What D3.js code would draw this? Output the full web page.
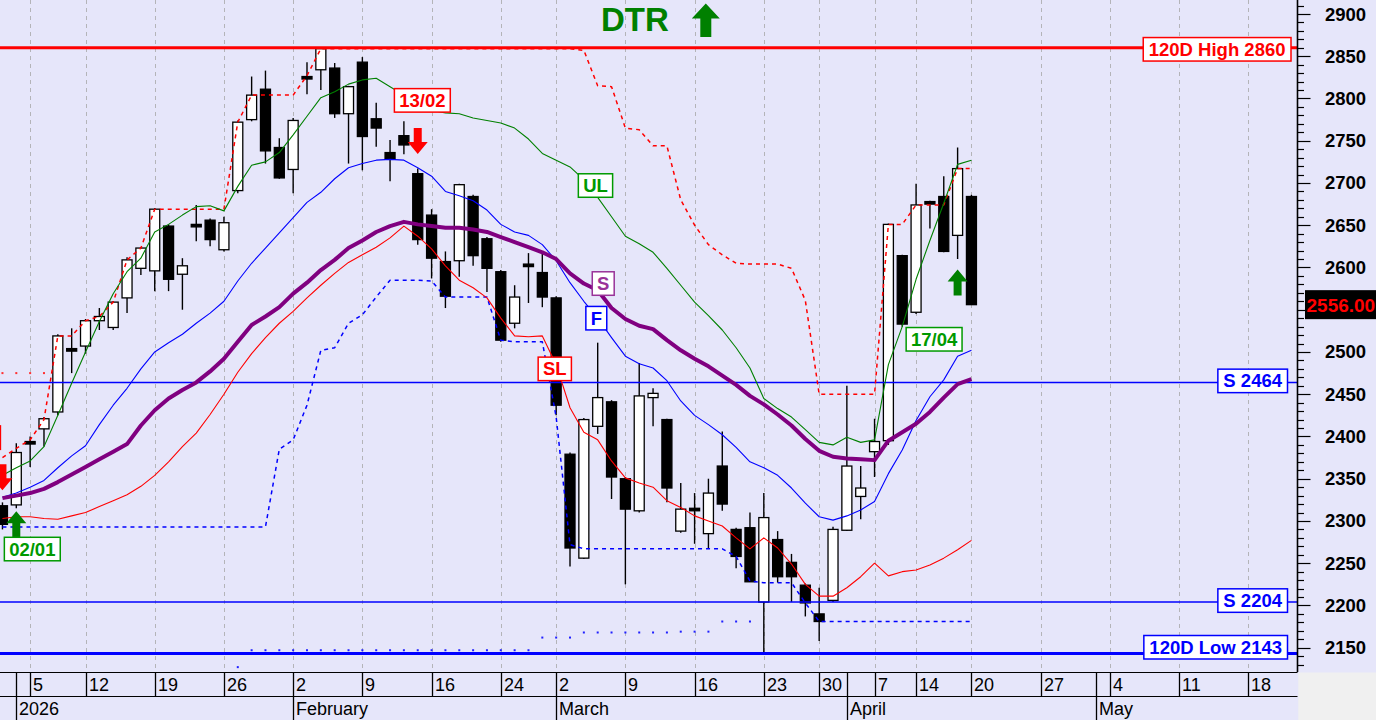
<!DOCTYPE html>
<html><head><meta charset="utf-8">
<script src="https://cdn.jsdelivr.net/npm/d3@7"></script>
<style>
html,body{margin:0;padding:0;background:#f0f0f0;}
svg{display:block;font-family:"Liberation Sans",Arial,sans-serif;}
</style></head><body>
<svg id="c" width="1376" height="720"></svg>
<script>
// ---------------- DATA ----------------
const firstDay = "2025-12-31", lastDay = "2026-05-29";
const holidays = ["2026-01-01","2026-01-09","2026-02-23","2026-03-27","2026-04-03","2026-04-06","2026-04-10","2026-04-13"];
const title = "DTR";
const monthLabels = ["2026","February","March","April","May","June"];

const open  = [2318,2319,2394,2409,2429,2504,2507,2537,2529,2564,2599,2596,2649,2592,2651,2656,2621,2691,2775,2811,2742,2716,2826,2834,2836,2782,2843,2776,2736,2756,2711,2662,2607,2608,2684,2634,2595,2534,2604,2594,2564,2379,2256,2412,2441,2350,2312,2446,2420,2288,2315,2285,2365,2290,2292,2204,2278,2251,2224,2190,2206,2289,2329,2382,2395,2614,2547,2678,2684,2638,2684];
const high  = [2322,2392,2400,2423,2521,2528,2539,2552,2560,2612,2624,2670,2651,2611,2674,2658,2660,2774,2826,2833,2753,2777,2843,2860,2842,2815,2849,2795,2751,2773,2717,2669,2619,2699,2686,2636,2597,2579,2617,2617,2566,2381,2422,2511,2443,2352,2487,2457,2421,2345,2333,2350,2406,2292,2310,2333,2288,2261,2226,2221,2293,2460,2365,2421,2652,2615,2699,2679,2708,2742,2686];
const low   = [2290,2315,2364,2388,2425,2475,2498,2526,2526,2546,2591,2572,2572,2550,2631,2625,2619,2688,2773,2723,2705,2688,2805,2810,2777,2723,2715,2743,2702,2734,2627,2587,2552,2589,2602,2571,2512,2528,2558,2553,2425,2246,2255,2403,2326,2225,2310,2412,2322,2286,2273,2268,2312,2244,2228,2143,2227,2204,2187,2158,2204,2288,2302,2352,2390,2530,2545,2646,2618,2610,2556];
const close = [2296,2381,2393,2421,2519,2501,2537,2542,2559,2609,2623,2669,2586,2602,2649,2633,2653,2772,2804,2738,2706,2774,2824,2859,2782,2814,2755,2765,2728,2745,2633,2611,2566,2698,2614,2599,2514,2565,2602,2565,2437,2268,2420,2446,2352,2314,2448,2451,2339,2314,2313,2333,2320,2258,2228,2304,2234,2234,2203,2181,2290,2365,2339,2394,2651,2533,2674,2675,2619,2717,2556];

const lineUL = [2354,2363,2371,2388,2425,2463,2500,2536,2569,2595,2611,2642,2651,2662,2672,2673,2667,2696,2721,2725,2736,2757,2779,2801,2808,2817,2822,2824,2814,2804,2796,2786,2783,2782,2777,2774,2771,2765,2752,2735,2727,2719,2704,2683,2660,2637,2628,2618,2599,2579,2559,2543,2526,2505,2481,2445,2433,2423,2408,2393,2390,2399,2393,2396,2485,2530,2586,2632,2676,2722,2727];
const lineF  = [2328,2333,2340,2348,2363,2377,2389,2414,2437,2457,2480,2500,2511,2521,2534,2546,2560,2584,2605,2623,2641,2659,2677,2689,2705,2718,2723,2727,2728,2727,2718,2708,2690,2685,2679,2668,2651,2642,2638,2627,2608,2582,2560,2540,2517,2495,2486,2481,2466,2442,2425,2414,2402,2387,2370,2363,2354,2339,2321,2305,2301,2306,2313,2323,2356,2384,2419,2447,2467,2495,2502];
const lineS  = [2327,2330,2333,2338,2346,2355,2364,2373,2382,2391,2413,2431,2445,2455,2464,2477,2492,2512,2532,2542,2553,2569,2582,2597,2609,2623,2632,2642,2649,2654,2651,2649,2647,2647,2645,2642,2636,2630,2624,2618,2610,2593,2581,2573,2552,2539,2531,2527,2514,2502,2492,2483,2472,2461,2448,2438,2426,2413,2397,2383,2376,2374,2373,2372,2395,2405,2415,2429,2446,2462,2468];
const lineSL = [2303,2305,2305,2303,2302,2306,2310,2317,2324,2331,2341,2354,2370,2388,2404,2426,2450,2476,2498,2517,2534,2548,2564,2579,2593,2606,2615,2624,2635,2649,2637,2622,2602,2585,2576,2564,2540,2519,2518,2519,2485,2434,2405,2396,2371,2351,2345,2340,2324,2316,2306,2300,2294,2280,2267,2280,2268,2249,2225,2211,2211,2221,2234,2250,2235,2240,2242,2248,2256,2266,2277];
const stopHigh = [2375,2386,2396,2420,2519,2519,2537,2542,2559,2609,2623,2669,2669,2669,2669,2669,2669,2772,2804,2804,2804,2804,2827,2859,2859,2859,2859,2859,2859,2859,2859,2859,2859,2859,2859,2859,2859,2859,2859,2859,2859,2859,2857,2815,2814,2765,2763,2744,2744,2680,2650,2627,2615,2605,2604,2604,2604,2599,2561,2450,2450,2450,2450,2450,2651,2651,2674,2674,2674,2717,2717];
const stopLow = [2293,2293,2293,2293,2293,2293,2293,2293,2293,2293,2293,2293,2293,2293,2293,2293,2293,2293,2293,2293,2385,2396,2437,2502,2505,2534,2544,2565,2585,2585,2585,2584,2565,2565,2565,2565,2514,2512,2512,2512,2423,2272,2267,2267,2267,2267,2267,2267,2267,2267,2267,2267,2267,2258,2229,2227,2227,2227,2203,2181,2181,2181,2181,2181,2181,2181,2181,2181,2181,2181,2181];
const dotLow = [null,null,null,null,null,null,null,null,null,null,null,null,null,null,null,null,null,2127,2147,2147,2147,2147,2147,2147,2147,2147,2147,2147,2147,2147,2147,2147,2147,2147,2147,2147,2147,2147,2147,2162,2162,2162,2168,2168,2168,2168,2168,2168,2168,2169,2169,2169,2181,2181,2181,null,null,null,null,null,null,null,null,null,null,null,null,null,null,null,null];
const dotHigh = [2475,2475,2475,2475];

const levels = [
  {value:2860, text:"120D High 2860", color:"#ff0000", w:3},
  {value:2464, text:"S 2464", color:"#0000ff", w:1.5},
  {value:2204, text:"S 2204", color:"#0000ff", w:1.5},
  {value:2143, text:"120D Low 2143", color:"#0000ff", w:3}
];
const signals = [
  {day:"2025-12-31", text:"31/12", type:"sell"},
  {day:"2026-01-02", text:"02/01", type:"buy"},
  {day:"2026-02-13", text:"13/02", type:"sell"},
  {day:"2026-04-17", text:"17/04", type:"buy"}
];
const lastPrice = 2556;

// ---------------- LAYOUT ----------------
const W=1376, H=720, plotR=1297.5, plotB=672;
const parse=d3.utcParse("%Y-%m-%d"), fmt=d3.utcFormat("%Y-%m-%d");
const days = d3.utcDays(parse(firstDay), d3.utcDay.offset(parse(lastDay),1))
  .filter(d => d.getUTCDay()%6!==0 && !holidays.includes(fmt(d)));
const dayIndex = s => days.findIndex(d => fmt(d)===s);

const x = d3.scaleLinear().domain([1,90]).range([16.3,1248.3]);
const y = d3.scaleLinear().domain([2150,2900]).range([647.7,14]);

const svg = d3.select("#c");
svg.append("rect").attr("width",W).attr("height",H).attr("fill","#e6e6fa");
svg.append("rect").attr("x",plotR+0.75).attr("y",plotB+0.5).attr("width",W-plotR).attr("height",H-plotB).attr("fill","#f0f0f0");

svg.append("clipPath").attr("id","clip").append("rect").attr("x",0).attr("y",0).attr("width",plotR).attr("height",plotB);
const plot = svg.append("g").attr("clip-path","url(#clip)");

// week / month starts
const visIdx = d3.range(1, days.length).filter(i => x(i) < plotR);
const weekStarts = visIdx.filter(i => +d3.utcMonday.floor(days[i]) !== +d3.utcMonday.floor(days[i-1]));
const monthStarts = visIdx.filter(i => days[i].getUTCMonth() !== days[i-1].getUTCMonth());

// grid
plot.selectAll(".grid").data(weekStarts).join("line")
  .attr("x1",i=>Math.round(x(i))+0.5).attr("x2",i=>Math.round(x(i))+0.5)
  .attr("y1",0).attr("y2",plotB)
  .attr("stroke","#b4b4b8").attr("stroke-width",1).attr("stroke-dasharray","4,4");

// candles
const cw = 10;
const cg = plot.append("g");
const idxs = d3.range(open.length);
cg.selectAll(".wick").data(idxs).join("line")
  .attr("x1",i=>x(i)).attr("x2",i=>x(i))
  .attr("y1",i=>y(high[i])).attr("y2",i=>y(low[i]))
  .attr("stroke","#000").attr("stroke-width",1.4);
cg.selectAll(".body").data(idxs).join("rect")
  .attr("x",i=>x(i)-cw/2)
  .attr("y",i=>y(Math.max(open[i],close[i])))
  .attr("width",cw)
  .attr("height",i=>Math.max(2.5, Math.abs(y(open[i])-y(close[i]))))
  .attr("fill",i=> close[i]>=open[i] ? "#ffffff" : "#000000")
  .attr("stroke","#000").attr("stroke-width",1.3);

// horizontal levels
levels.forEach(l=>{
  plot.append("line").attr("x1",0).attr("x2",plotR).attr("y1",y(l.value)).attr("y2",y(l.value))
    .attr("stroke",l.color).attr("stroke-width",l.w);
});

// indicator lines
const line = d3.line().defined(d=>d!=null).x((d,i)=>x(i)).y(d=>y(d));
function drawLine(arr,color,w,dash){
  const p = plot.append("path").datum(arr).attr("d",line).attr("fill","none")
    .attr("stroke",color).attr("stroke-width",w).attr("stroke-linejoin","round");
  if(dash) p.attr("stroke-dasharray",dash);
}
drawLine(stopHigh,"#ff0000",1.5,"4,4");
drawLine(stopLow,"#0000ff",1.5,"4,4");
drawLine(lineSL,"#ff0000",1.1);
drawLine(lineF,"#0000ff",1.1);
drawLine(lineUL,"#008000",1.1);
drawLine(lineS,"#800080",4);

plot.selectAll(".dl").data(dotLow.map((v,i)=>[i,v]).filter(d=>d[1]!=null)).join("rect")
  .attr("x",d=>x(d[0])-1).attr("y",d=>y(d[1])-1).attr("width",2).attr("height",2).attr("fill","#2020ff");
plot.selectAll(".dh").data(dotHigh.map((v,i)=>[i,v])).join("rect")
  .attr("x",d=>x(d[0])-1).attr("y",d=>y(d[1])-1).attr("width",2).attr("height",2).attr("fill","#ff3030");

// helpers
function box(g, cx, cy, text, color, opts={}){
  const t = g.append("text").attr("x",cx).attr("y",cy+6.5).attr("text-anchor","middle")
    .attr("font-weight","bold").attr("font-size",opts.fs||18.5).attr("fill",color).text(text);
  const tw = t.node().getComputedTextLength();
  const pad = 4.8, h = 23.5;
  g.insert("rect","text:last-child").attr("x",cx-tw/2-pad).attr("y",cy-h/2)
    .attr("width",tw+2*pad).attr("height",h).attr("fill","#fff").attr("stroke",color).attr("stroke-width",1.5);
  t.raise();
  return tw+2*pad;
}
function arrow(g, cx, top, dir, w, h, hh, sw, color){
  let p;
  if(dir==="up"){
    p=[[cx,top],[cx+w/2,top+hh],[cx+sw/2,top+hh],[cx+sw/2,top+h],[cx-sw/2,top+h],[cx-sw/2,top+hh],[cx-w/2,top+hh]];
  } else {
    const b=top+h;
    p=[[cx,b],[cx+w/2,b-hh],[cx+sw/2,b-hh],[cx+sw/2,top],[cx-sw/2,top],[cx-sw/2,b-hh],[cx-w/2,b-hh]];
  }
  g.append("path").attr("d","M"+p.map(q=>q.join(",")).join("L")+"Z").attr("fill",color);
}

// line labels
const lab = plot.append("g");
const lineLabels = [
  {text:"SL", i:39.9, v:2480, color:"#ff0000"},
  {text:"UL", i:42.84, v:2697, color:"#009a00"},
  {text:"S",  i:43.4, v:2581, color:"#993399"},
  {text:"F",  i:42.9, v:2540, color:"#0000ff"}
];
lineLabels.forEach(l=> box(lab, x(l.i), y(l.v), l.text, l.color));

// level labels (right)
levels.forEach(l=>{
  const g = svg.append("g");
  const t = g.append("text").attr("font-weight","bold").attr("font-size",18.5).attr("fill",l.color).text(l.text);
  const tw = t.node().getComputedTextLength();
  const right = l.w>2 && l.value>2500 ? 1291 : 1287.5;
  const bw = tw+11, h=23.5;
  let cy = y(l.value)+ (l.value>2500? 1.5 : -1.5);
  cy = Math.min(cy, plotB-13-h/2);
  g.insert("rect","text").attr("x",right-bw).attr("y",cy-h/2).attr("width",bw).attr("height",h)
    .attr("fill","#fff").attr("stroke",l.color).attr("stroke-width",1.5);
  t.attr("x",right-bw/2).attr("y",cy+6.5).attr("text-anchor","middle");
});

// signals
const sg = plot.append("g");
const sigStyle = {
  "31/12":{arrowGap:12, boxGap:15, dx:-30},
  "02/01":{arrowGap:3, boxGap:0, dx:16},
  "13/02":{arrowGap:14.5, boxGap:16, dx:4.6},
  "17/04":{arrowGap:10.5, boxGap:32, dx:-23.5}
};
signals.forEach(s=>{
  const i = dayIndex(s.day), st = sigStyle[s.text];
  const cx = x(i), aH=26;
  if(s.type==="buy"){
    const tip = y(low[i])+st.arrowGap;
    arrow(sg, cx, tip, "up", 20, aH, 12, 8, "#008000");
    box(sg, cx+st.dx, tip+aH+st.boxGap+11.75, s.text, "#009a00");
  } else {
    const bot = y(high[i])-st.arrowGap;
    arrow(sg, cx, bot-aH, "down", 20, aH, 12, 8, "#ff0000");
    box(sg, cx+st.dx, bot-aH-st.boxGap-11.75, s.text, "#ff0000");
  }
});

// title
svg.append("text").attr("x",601).attr("y",30.5).attr("font-size",33).attr("font-weight","bold")
  .attr("fill","#008000").text(title);
arrow(svg, 705.8, 3.5, "up", 28, 33.5, 15, 11, "#008000");

// y axis
svg.append("line").attr("x1",plotR).attr("x2",plotR).attr("y1",0).attr("y2",plotB).attr("stroke","#000").attr("stroke-width",1.6);
const ticks = d3.range(2130, 2921, 10).filter(v=>y(v)>=2 && y(v)<=plotB-2);
svg.selectAll(".tk").data(ticks).join("line")
  .attr("x1",plotR).attr("x2",v=> v%50===0 ? plotR+13 : plotR+6.5)
  .attr("y1",v=>Math.round(y(v))+0.5).attr("y2",v=>Math.round(y(v))+0.5)
  .attr("stroke","#000").attr("stroke-width",1.2);
svg.selectAll(".tl").data(ticks.filter(v=>v%50===0 && Math.abs(y(v)-y(lastPrice))>18)).join("text")
  .attr("x",1325).attr("y",v=>y(v)+6.5).attr("font-size",18.5).attr("font-weight","bold")
  .attr("fill","#000").text(v=>v);

// last price box
svg.append("rect").attr("x",1305).attr("y",y(lastPrice)-14.5).attr("width",75).attr("height",29).attr("fill","#000");
svg.append("text").attr("x",1306.5).attr("y",y(lastPrice)+7).attr("font-size",19).attr("font-weight","bold")
  .attr("fill","#ff0000").text(lastPrice.toFixed(2));

// x axis band
const ax = svg.append("g");
ax.append("line").attr("x1",0).attr("x2",plotR).attr("y1",plotB+0.5).attr("y2",plotB+0.5).attr("stroke","#000");
ax.append("line").attr("x1",0).attr("x2",plotR).attr("y1",696.5).attr("y2",696.5).attr("stroke","#000");
const daySeps = Array.from(new Set([...weekStarts,...monthStarts])).sort((a,b)=>a-b);
ax.selectAll(".ds").data(daySeps).join("line")
  .attr("x1",i=>Math.round(x(i))+0.5).attr("x2",i=>Math.round(x(i))+0.5)
  .attr("y1",plotB).attr("y2",696).attr("stroke","#000").attr("stroke-width",1.3);
ax.selectAll(".ms").data(monthStarts).join("line")
  .attr("x1",i=>Math.round(x(i))+0.5).attr("x2",i=>Math.round(x(i))+0.5)
  .attr("y1",696).attr("y2",H).attr("stroke","#000").attr("stroke-width",1.3);
ax.selectAll(".dl").data(weekStarts).join("text")
  .attr("x",i=>Math.round(x(i))+3).attr("y",691).attr("font-size",18).attr("fill","#000")
  .text(i=>days[i].getUTCDate());
ax.selectAll(".ml").data(monthStarts).join("text")
  .attr("x",i=>Math.round(x(i))+3).attr("y",715).attr("font-size",18).attr("fill","#000")
  .text((i,k)=>monthLabels[k]);
</script>
</body></html>
